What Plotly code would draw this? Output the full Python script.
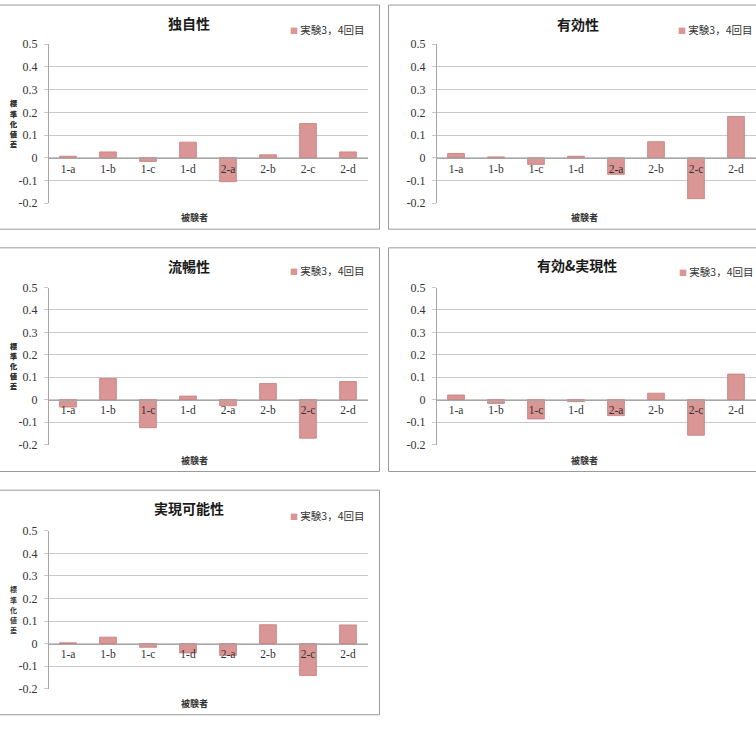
import plotly.graph_objects as go

# ---------------- data ----------------
categories = ["1-a", "1-b", "1-c", "1-d", "2-a", "2-b", "2-c", "2-d"]
titles = ["独自性", "有効性", "流暢性", "有効&実現性", "実現可能性"]
dokuji = [0.007, 0.026, -0.016, 0.069, -0.105, 0.013, 0.151, 0.026]
yuko = [0.019, 0.004, -0.029, 0.007, -0.073, 0.071, -0.180, 0.182]
ryucho = [-0.033, 0.094, -0.125, 0.016, -0.027, 0.072, -0.172, 0.081]
yuko_jitsugen = [0.021, -0.017, -0.086, -0.009, -0.071, 0.029, -0.159, 0.114]
jitsugen = [0.004, 0.029, -0.016, -0.041, -0.052, 0.084, -0.141, 0.083]
series_name = "実験3，4回目"
y_tick_vals = [-0.2, -0.1, 0, 0.1, 0.2, 0.3, 0.4, 0.5]
y_tick_text = ["-0.2", "-0.1", "0", "0.1", "0.2", "0.3", "0.4", "0.5"]
y_title = "標準化値差"
x_title = "被験者"
series = [dokuji, yuko, ryucho, yuko_jitsugen, jitsugen]

# ---------------- layout geometry (pixels) ----------------
W, H = 756, 737
Y_MIN, Y_MAX = -0.2, 0.5
# plot areas: (x0, x1, y_top, y_bottom)
plots = [
    (48, 368, 38, 200),
    (436, 756, 38, 200),
    (48, 368, 286, 446),
    (436, 756, 286, 446),
    (48, 368, 534, 695),
]
# panel frames: (x0, y0, x1, y1)
frames = [
    (-2, -2, 379.5, 226.5),
    (388.5, -2, 760, 226.5),
    (-2, 245.5, 379.5, 473.5),
    (388.5, 245.5, 760, 473.5),
    (-2, 492.5, 379.5, 721.5),
]
title_pos = [(189, 16), (578, 17), (189, 264), (577, 263), (189, 511)]
legend_pos = [(288, 23), (676, 23), (288, 269), (677, 270), (288, 518)]
xtitle_pos = [(194, 215), (584, 215), (194, 462), (584, 462), (194, 710)]

BAR_FILL = "#D99694"
BAR_LINE = "#C47D7B"
GRID = "#C8C8C8"
AXIS = "#A6A6A6"
FRAME = "#9A9A9A"
SERIF = "Liberation Serif, DejaVu Serif, serif"
CJK = "Noto Sans CJK JP"


def fx(x):
    return x / W


def fy(y):
    return 1 - y / H


fig = go.Figure()
annotations = []
shapes = []
layout_axes = {}

for i, (vals, title) in enumerate(zip(series, titles)):
    n = i + 1
    xa = "x" if n == 1 else f"x{n}"
    ya = "y" if n == 1 else f"y{n}"
    xkey = "xaxis" if n == 1 else f"xaxis{n}"
    ykey = "yaxis" if n == 1 else f"yaxis{n}"
    x0, x1, yt, yb = plots[i]

    fig.add_trace(go.Bar(
        x=categories, y=vals, name=series_name,
        xaxis=xa, yaxis=ya, width=0.42,
        marker=dict(color=BAR_FILL, line=dict(color=BAR_LINE, width=0.8)),
        showlegend=False,
    ))

    zero_px = yb - (0 - Y_MIN) / (Y_MAX - Y_MIN) * (yb - yt)
    layout_axes[xkey] = dict(
        domain=[fx(x0), fx(x1)],
        anchor="free", position=fy(zero_px),
        type="category",
        showline=True, linecolor=AXIS, linewidth=1,
        showgrid=False, zeroline=False,
        ticks="", ticklabelstandoff=0,
        tickfont=dict(family=SERIF, size=11.5, color="#333333"),
        fixedrange=True,
    )
    layout_axes[ykey] = dict(
        domain=[fy(yb), fy(yt)],
        anchor="free", position=fx(x0),
        range=[Y_MIN, Y_MAX],
        tickvals=y_tick_vals, ticktext=y_tick_text,
        showline=True, linecolor=AXIS, linewidth=1,
        showgrid=True, gridcolor=GRID, gridwidth=1,
        zeroline=False,
        ticks="outside", ticklen=4, tickcolor=GRID,
        ticklabelstandoff=4,
        tickfont=dict(family=SERIF, size=12, color="#333333"),
        fixedrange=True,
    )

    # chart title
    tx, ty = title_pos[i]
    annotations.append(dict(
        text=f"<b>{title}</b>", x=fx(tx), y=fy(ty), xref="paper", yref="paper",
        xanchor="center", yanchor="middle", showarrow=False,
        font=dict(family=CJK, size=14, color="#1a1a1a"),
    ))
    # legend
    lx, ly = legend_pos[i]
    annotations.append(dict(
        text=f"<span style='color:{BAR_FILL};font-size:8px'>■</span> {series_name}",
        x=fx(lx), y=fy(ly), xref="paper", yref="paper",
        xanchor="left", yanchor="middle", showarrow=False,
        font=dict(family=CJK, size=10.5, color="#333333"),
    ))
    # x axis title
    ax_, ay_ = xtitle_pos[i]
    annotations.append(dict(
        text=f"<b>{x_title}</b>", x=fx(ax_), y=fy(ay_), xref="paper", yref="paper",
        xanchor="center", yanchor="middle", showarrow=False,
        font=dict(family=CJK, size=9, color="#333333"),
    ))
    # y axis title (stacked vertical characters, one per annotation)
    cy = (yt + yb) / 2
    nch = len(y_title)
    step = 10.4
    for k, ch in enumerate(y_title):
        annotations.append(dict(
            text=f"<b>{ch}</b>",
            x=fx(13), y=fy(cy + (k - (nch - 1) / 2) * step),
            xref="paper", yref="paper", xanchor="center", yanchor="middle",
            showarrow=False, borderpad=0,
            font=dict(family=CJK, size=7, color="#333333"),
        ))
    # panel frame
    fx0, fy0, fx1, fy1 = frames[i]
    shapes.append(dict(
        type="rect", xref="paper", yref="paper",
        x0=fx(fx0), x1=fx(fx1), y0=fy(fy0), y1=fy(fy1),
        line=dict(color=FRAME, width=1), fillcolor="rgba(0,0,0,0)", layer="below",
    ))

fig.update_layout(
    width=W, height=H,
    margin=dict(l=0, r=0, t=0, b=0),
    paper_bgcolor="white", plot_bgcolor="white",
    showlegend=False,
    annotations=annotations, shapes=shapes,
    bargap=0.58,
    **layout_axes,
)

fig.write_html("out.html")
